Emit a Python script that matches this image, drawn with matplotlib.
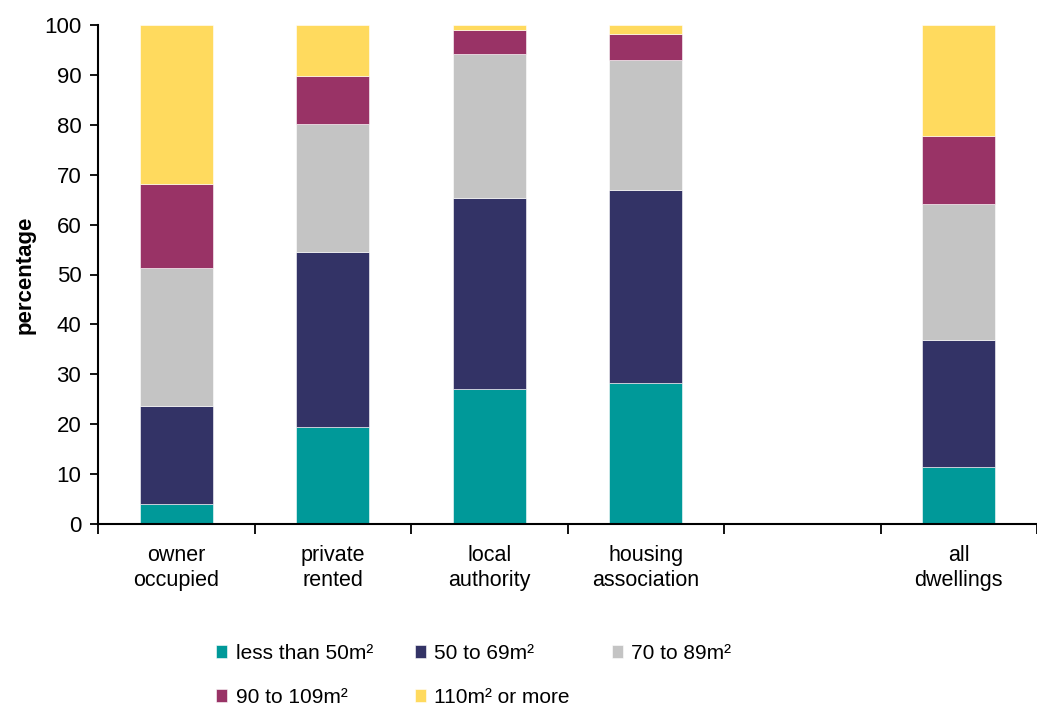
import numpy as np
import matplotlib
matplotlib.use('Agg')
import matplotlib.pyplot as plt

plt.rcParams['font.family'] = ['Liberation Sans', 'DejaVu Sans']

# tenure groups (blank slot before "all dwellings")
categories = ['owner\noccupied', 'private\nrented', 'local\nauthority', 'housing\nassociation', '', 'all\ndwellings']
series_names = ['less than 50m²', '50 to 69m²', '70 to 89m²', '90 to 109m²', '110m² or more']
colors = ['#009999', '#333366', '#C4C4C4', '#993366', '#FFDA5E']

# percentages per size band (blank slot = 0)
less_50 = [4.1, 19.4, 27.0, 28.2, 0, 11.4]
from_50_69 = [19.6, 35.1, 38.3, 38.7, 0, 25.5]
from_70_89 = [27.6, 25.7, 28.8, 26.1, 0, 27.2]
from_90_109 = [16.8, 9.6, 4.8, 5.1, 0, 13.7]
over_110 = [31.9, 10.2, 1.1, 1.9, 0, 22.2]

series = [less_50, from_50_69, from_70_89, from_90_109, over_110]

fig = plt.figure(figsize=(10.37, 7.07), dpi=100)
ax = fig.add_axes([98 / 1037, 1 - 524 / 707, (1037 - 98) / 1037, (524 - 25) / 707])

x = np.arange(len(categories))
bottom = np.zeros(len(categories))
bars = []
for name, vals, col in zip(series_names, series, colors):
    vals = np.array(vals, dtype=float)
    b = ax.bar(x, vals, width=0.465, bottom=bottom, color=col, label=name,
               edgecolor='#FFFFFF', linewidth=0.4)
    bars.append(b)
    bottom += vals

ax.set_ylim(0, 100)
# last slot runs off the right edge of the picture
ax.set_xlim(-0.5, -0.5 + 939 / 157.9)
ax.set_yticks(range(0, 101, 10))
ax.tick_params(axis='y', labelsize=16, length=6, width=1.3, direction='out', pad=6)

ax.set_xticks(x)
ax.set_xticklabels(categories, fontsize=15.5, linespacing=1.25)
ax.tick_params(axis='x', which='major', length=0, pad=15)
ax.set_xticks(np.arange(-0.5, 6, 1), minor=True)
ax.tick_params(axis='x', which='minor', length=7, width=1.3, direction='out')

for side in ['top', 'right']:
    ax.spines[side].set_visible(False)
for side in ['left', 'bottom']:
    ax.spines[side].set_linewidth(1.5)

ax.set_ylabel('percentage', fontsize=16, fontweight='bold', labelpad=6)

# legend filled row by row: 3 on top, 2 below
order = [0, 3, 1, 4, 2]
fig.legend([bars[i] for i in order], [series_names[i] for i in order],
           loc='upper left', bbox_to_anchor=(216 / 1037, 1 - 644 / 707), ncol=3,
           frameon=False, fontsize=15, handlelength=0.55, handleheight=0.55,
           handletextpad=0.4, columnspacing=2.0, labelspacing=1.2,
           borderpad=0, borderaxespad=0)

fig.savefig('out.png', dpi=100)
